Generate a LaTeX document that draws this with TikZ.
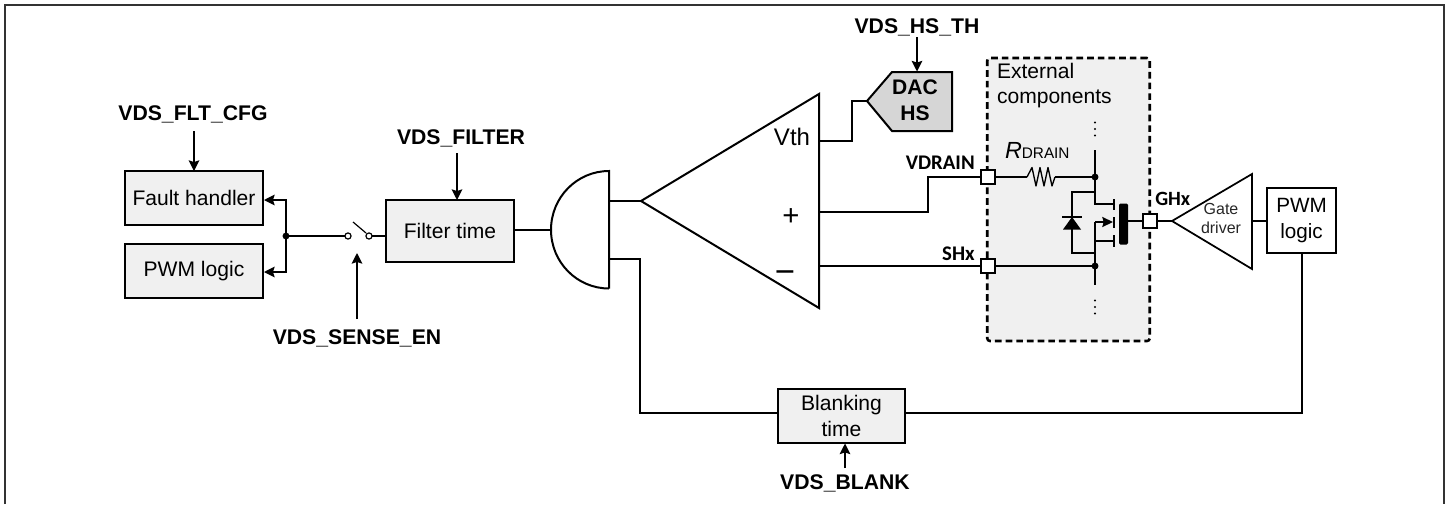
\documentclass[tikz,border=0pt]{standalone}
\usepackage{fontspec}
\setmainfont{Liberation Sans}
\newfontfamily\carl{Carlito}
\usetikzlibrary{arrows.meta}
\tikzset{
  wire/.style={draw=black,line width=1.3pt},
  thinwire/.style={draw=black,line width=1.1pt},
  ctl/.style={draw=black,line width=1.05pt,-{Stealth[length=8pt,width=8pt,inset=1.3pt]}},
  blockbox/.style={draw=black,line width=1.8pt,fill=black!6,inner sep=0pt,outer sep=0pt,align=center,font=\fontsize{15.8}{19}\selectfont},
  whitebox/.style={blockbox,fill=white},
  siglabel/.style={inner sep=0pt,font=\fontsize{15.9}{17}\selectfont\bfseries},
  pinlabel/.style={inner sep=0pt,anchor=east,font=\fontsize{15.6}{17}\selectfont\carl\bfseries},
  pin/.style={draw=black,line width=1.2pt,fill=white,minimum size=13.5*0.75pt,inner sep=0pt,outer sep=0pt},
  plain/.style={inner sep=0pt,outer sep=0pt,align=center},
  dot/.style={circle,fill=black,inner sep=0pt,outer sep=0pt,minimum size=5.2pt},
  contact/.style={circle,draw=black,line width=.9pt,fill=white,inner sep=0pt,outer sep=0pt,minimum size=4.6pt},
  frameline/.style={draw=black!80,line width=1.1pt}
}
\begin{document}
\begin{tikzpicture}[x=0.75pt,y=-0.75pt]
\useasboundingbox (0,0) rectangle (1450,504);
% frame
\coordinate (fa) at (5,504); \coordinate (fb) at (5,5);
\coordinate (fc) at (1444,5); \coordinate (fd) at (1444,504);
\draw[frameline] (fa) -- (fb) -- (fc) -- (fd);

% external components area
\node[draw=black,line width=1.9pt,dash pattern=on 5pt off 3pt,fill=black!6,rounded corners=2pt,
      minimum width=162.5*0.75pt,minimum height=283*0.75pt,inner sep=0pt,outer sep=0pt] (ext) at (1068.5,199.5) {};
\node[plain,anchor=west,align=left,font=\fontsize{15.8}{18.6}\selectfont] (exttext) at (997,85.5) {External\\components};

% left blocks
\node[blockbox,minimum width=138*0.75pt,minimum height=54*0.75pt] (fault) at (194,198) {Fault handler};
\node[blockbox,minimum width=138*0.75pt,minimum height=54*0.75pt] (pwml) at (194,271) {PWM logic};
\node[blockbox,minimum width=128*0.75pt,minimum height=62*0.75pt] (filter) at (450,231) {Filter time};
\node[blockbox,minimum width=127*0.75pt,minimum height=54*0.75pt,font=\fontsize{15.8}{19.5}\selectfont] (blank) at (841.5,416) {Blanking\\time};

% labels
\node[siglabel] (fltcfg) at (193,114) {VDS\_FLT\_CFG};
\node[siglabel] (vfilter) at (461,138) {VDS\_FILTER};
\node[siglabel] (sense) at (357,338) {VDS\_SENSE\_EN};
\node[siglabel] (vblank) at (845,483) {VDS\_BLANK};
\node[siglabel] (hsth) at (917,27) {VDS\_HS\_TH};

\coordinate (fltS) at (194,131); \coordinate (fltE) at (194,171);
\coordinate (filS) at (457,153); \coordinate (filE) at (457,200);
\coordinate (senS) at (357,319); \coordinate (senE) at (357,253);
\coordinate (blS) at (845,468); \coordinate (blE) at (845,443.5);
\coordinate (hsS) at (917,37); \coordinate (hsE) at (917,71.5);
\draw[ctl] (fltS) -- (fltE);
\draw[ctl] (filS) -- (filE);
\draw[ctl] (senS) -- (senE);
\draw[ctl] (blS) -- (blE);
\draw[ctl] (hsS) -- (hsE);

% switch and junction
\node[dot] (jn) at (286,236) {};
\node[contact] (swa) at (348,236) {};
\node[contact] (swb) at (369,236) {};
\coordinate (levA) at (353,222); \coordinate (levB) at (366,233);
\coordinate (filIn) at (386,236);
\draw[thinwire] (jn) -- (swa);
\draw[thinwire,line width=.9pt] (levA) -- (levB);
\draw[thinwire] (swb) -- (filIn);
\coordinate (jup) at (286,200); \coordinate (jdn) at (286,272);
\coordinate (fhIn) at (264,200); \coordinate (pwIn) at (264,272);
\draw[ctl] (jn) -- (jup) -- (fhIn);
\draw[ctl] (jn) -- (jdn) -- (pwIn);

% AND gate
\coordinate (gT) at (609,171); \coordinate (gB) at (609,288.5);
\coordinate (gL) at (551,230); \coordinate (gOut) at (609,201); \coordinate (gIn) at (609,259);
\draw[draw=black,line width=1.5pt] (gB) -- (gT) arc[start angle=90,end angle=270,x radius=58,y radius=-58.75];
\coordinate (filOut) at (514,230);
\draw[wire] (filOut) -- (gL);

% comparator
\coordinate (cTip) at (641,201); \coordinate (cT) at (819,94); \coordinate (cB) at (819,308);
\draw[draw=black,line width=1.5pt,line join=miter] (cTip) -- (cT) -- (cB) -- cycle;
\draw[draw=black,line width=1.5pt] (gOut) -- (cTip);
\node[plain,font=\fontsize{18}{20}\selectfont] (vth) at (792,137) {Vth};
\node[plain,font=\fontsize{22}{24}\selectfont] (plus) at (791,217) {+};
\node[plain,font=\fontsize{26}{28}\selectfont] (minus) at (785,277) {\char"2212};

% DAC
\coordinate (dTip) at (867,101);
\draw[draw=black,line width=1.5pt,fill=black!16,line join=miter] (dTip) -- (892,72) -- (952,72) -- (952,131) -- (892,131) -- cycle;
\node[plain,font=\fontsize{15.8}{19.5}\selectfont\bfseries] (dac) at (915,100) {DAC\\HS};
\coordinate (cV) at (819,141); \coordinate (dk1) at (852,141); \coordinate (dk2) at (852,101);
\draw[wire,line join=miter] (cV) -- (dk1) -- (dk2) -- (dTip);

% terminals wiring
\node[pin] (pvd) at (988,177) {};
\node[pin] (psh) at (988,266) {};
\node[pin] (pgh) at (1150,221) {};
\node[pinlabel] (lvd) at (975,163) {VDRAIN};
\node[pinlabel] (lsh) at (975,254) {SHx};
\node[inner sep=0pt,anchor=west,font=\fontsize{15.2}{17}\selectfont\carl\bfseries] (lgh) at (1155,199) {GHx};
\coordinate (cP) at (819,212); \coordinate (k1) at (928,212); \coordinate (k2) at (928,177);
\coordinate (cM) at (819,266);
\draw[thinwire,line join=miter] (cP) -- (k1) -- (k2) -- (pvd);
\draw[thinwire] (cM) -- (psh);

% resistor
\node[dot] (jd) at (1095,177) {};
\node[dot] (js) at (1095,266) {};
\coordinate (rA) at (1027,177); \coordinate (rB) at (1055,177);
\draw[thinwire] (pvd) -- (rA);
\draw[thinwire,line width=1pt,line join=round] (rA) -- (1032,167.5) -- (1036,186) -- (1040,167.5) -- (1044,186) -- (1048,167.5) -- (1052,186) -- (rB);
\draw[thinwire] (rB) -- (jd);
\draw[thinwire] (psh) -- (js);
\node[plain,anchor=base west] (rlab) at (1005,158) {\fontsize{17.5}{18}\selectfont\itshape R\fontsize{11.5}{14}\selectfont\upshape DRAIN};

% MOSFET
\coordinate (tTop) at (1095,150); \coordinate (tD) at (1095,204); \coordinate (tDr) at (1113,204);
\coordinate (tS) at (1095,222); \coordinate (tSr) at (1113,222);
\coordinate (tB) at (1095,241); \coordinate (tBr) at (1113,241);
\coordinate (tBot) at (1095,285);
\draw[thinwire,line join=miter] (tTop) -- (tD) -- (tDr);
\draw[thinwire] (tS) -- (tBot);
\draw[thinwire] (tB) -- (tBr);
\draw[thinwire,-{Stealth[length=8pt,width=7.5pt,inset=1pt]}] (tS) -- (tSr);
\draw[line width=1pt] (1114,199) -- (1114,210) (1114,217) -- (1114,228) (1114,235) -- (1114,247);
\node[fill=black,rounded corners=1pt,minimum width=9*0.75pt,minimum height=41*0.75pt,inner sep=0pt,outer sep=0pt] (gbar) at (1123.5,224) {};
\coordinate (gbarE) at (1128,221);
\draw[thinwire] (gbarE) -- (pgh);
% body diode
\coordinate (dT) at (1095,192); \coordinate (dTl) at (1072,192);
\coordinate (dB) at (1095,253); \coordinate (dBl) at (1072,253);
\draw[thinwire,line join=miter] (dT) -- (dTl) -- (dBl) -- (dB);
\draw[fill=black,draw=none] (1063,229.5) -- (1081,229.5) -- (1072,217) -- cycle;
\draw[line width=1.1pt] (1062,217) -- (1082,217);
% dots
\foreach \yy in {122.5,129,135.5,300.5,307,313.5}{\fill (1095,\yy) circle[radius=1.1];}

% gate driver
\coordinate (gdTip) at (1172,221); \coordinate (gdT) at (1252,174); \coordinate (gdB) at (1252,269);
\draw[draw=black,line width=1.3pt,line join=miter] (gdTip) -- (gdT) -- (gdB) -- cycle;
\draw[thinwire] (pgh) -- (gdTip);
\node[plain,font=\fontsize{12}{14.5}\selectfont,text=black!85] (gd) at (1221,218.5) {Gate\\driver};
\node[whitebox,minimum width=69*0.75pt,minimum height=65*0.75pt,font=\fontsize{15.5}{18.8}\selectfont] (pwmr) at (1301.5,220.5) {PWM\\logic};
\coordinate (gdOut) at (1252,221);
\draw[wire] (gdOut) -- (pwmr.west |- gdOut);

% blanking wiring
\coordinate (bl1) at (640,259); \coordinate (bl2) at (640,413);
\coordinate (blL) at (778,413); \coordinate (blR) at (905,413); \coordinate (pr) at (1302,413);
\coordinate (prT) at (1302,253);
\draw[wire,line join=miter] (gIn) -- (bl1) -- (bl2) -- (blL);
\draw[wire,line join=miter] (blR) -- (pr) -- (prT);
\end{tikzpicture}
\end{document}
